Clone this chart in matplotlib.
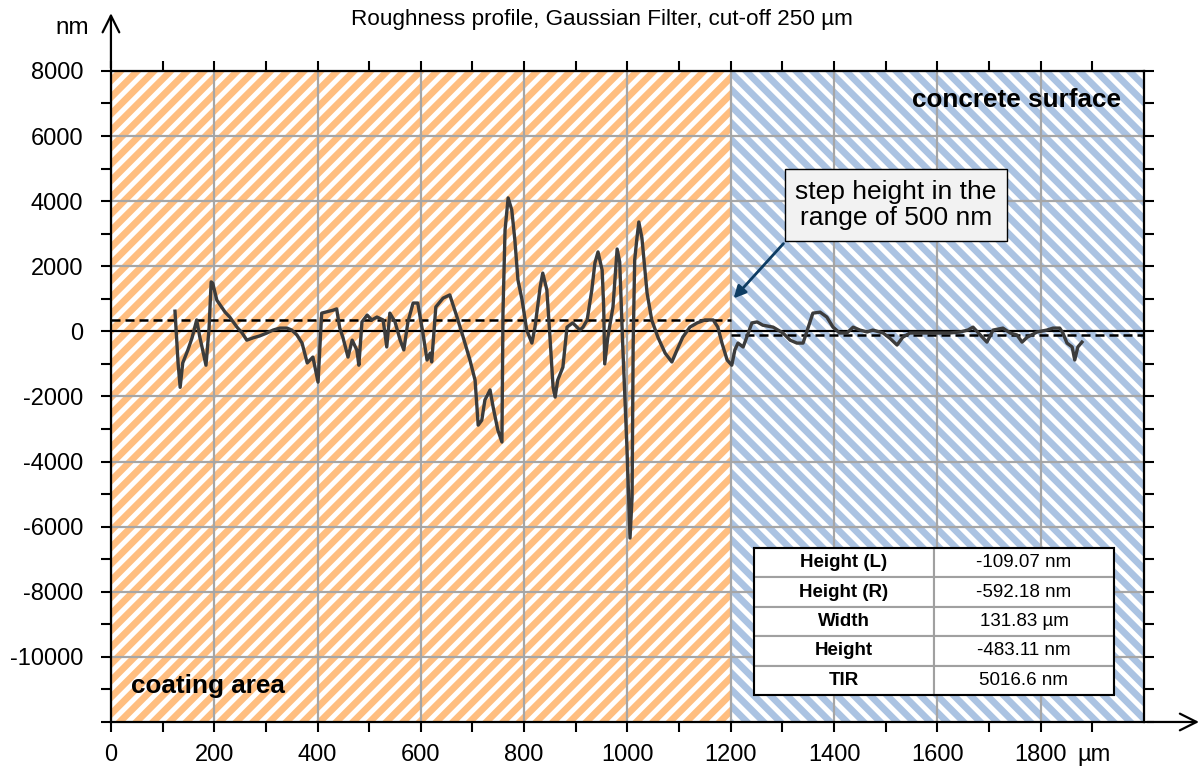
import matplotlib
matplotlib.use("Agg")
import matplotlib.pyplot as plt
import numpy as np

plt.rcParams['font.family'] = ['Liberation Sans', 'DejaVu Sans']
plt.rcParams['axes.unicode_minus'] = False
plt.rcParams['hatch.linewidth'] = 3.6

# roughness profile (x in µm, z in nm)
x_um = [124, 130, 134, 139, 149, 157, 166, 172, 184, 190, 194, 197, 205, 221, 230,
        244, 254, 263, 275, 288, 302, 314, 327, 341, 350, 360, 370, 380, 391, 401,
        408, 430, 437, 443, 449, 459, 467, 476, 480, 486, 496, 505, 515, 527, 534,
        540, 550, 560, 567, 575, 585, 594, 604, 612, 618, 621, 629, 643, 656, 670,
        682, 695, 705, 711, 718, 724, 734, 740, 749, 757, 759, 763, 769, 776, 782,
        788, 796, 805, 815, 821, 831, 836, 844, 850, 856, 860, 865, 875, 883, 894,
        908, 914, 922, 931, 937, 943, 951, 954, 956, 962, 972, 980, 985, 991, 999,
        1005, 1009, 1011, 1014, 1018, 1022, 1028, 1038, 1047, 1059, 1073, 1086, 1096,
        1107, 1121, 1135, 1150, 1166, 1175, 1183, 1193, 1202, 1208, 1214, 1224, 1231,
        1241, 1251, 1262, 1282, 1301, 1315, 1328, 1340, 1350, 1359, 1373, 1386, 1398,
        1411, 1425, 1437, 1450, 1464, 1475, 1495, 1508, 1522, 1533, 1547, 1566, 1586,
        1605, 1624, 1644, 1659, 1669, 1683, 1696, 1708, 1727, 1741, 1754, 1764, 1774,
        1793, 1812, 1824, 1837, 1843, 1851, 1861, 1866, 1872, 1880]
z_nm = [620, -980, -1720, -970, -570, -200, 350, -170, -1040, 100, 1520, 1480, 960, 590, 440,
        130, -50, -270, -200, -140, -50, 40, 100, 100, 40, -110, -360, -970, -790, -1560,
        560, 650, 690, 100, -180, -790, -270, -570, -1040, 290, 500, 350, 440, 350, -480,
        560, 290, -270, -570, 290, 870, 870, -50, -880, -670, -940, 750, 1020, 1120, 440,
        -180, -880, -1500, -2880, -2730, -2110, -1800, -2330, -3030, -3400, 560, 3110, 4100, 3730, 2810,
        1580, 960, 40, -360, 130, 1360, 1790, 1270, -180, -1710, -2020, -1500, -1100, 130, 260,
        40, 130, 350, 1270, 2100, 2440, 1880, 750, -1000, -180, 750, 2530, 2130, -480, -3560,
        -6350, -5090, -480, 2190, 2810, 3360, 2870, 1180, 350, -180, -670, -940, -570,
        -180, 130, 260, 350, 350, 130, -360, -880, -1040, -570, -360, -480, -180,
        260, 290, 190, 130, -50, -270, -360, -360, 130, 560, 590, 440, 130,
        -50, -50, 130, 40, -20, 40, -50, -210, -420, -180, -50, -50, -50,
        -50, -50, -20, 40, 130, -110, -330, 40, 100, -50, -110, -330, -180,
        -20, 40, 100, 100, -50, -360, -480, -880, -480, -330]

coating_end = 1200
x_max = 2000
level_left = 350
level_right = -110

table_rows = ["Height (L)", "Height (R)", "Width", "Height", "TIR"]
table_vals = ["-109.07 nm", "-592.18 nm", "131.83 µm", "-483.11 nm", "5016.6 nm"]

fig = plt.figure(figsize=(12.02, 7.67), dpi=100)
ax = fig.add_axes([0.0923, 0.0587, 0.8594, 0.8488])

# hatched background zones
ax.axvspan(0, coating_end, facecolor='#FFBE80', edgecolor='white', hatch='//', linewidth=0, zorder=0)
ax.axvspan(coating_end, x_max, facecolor='#ABC3E2', edgecolor='white', hatch='\\\\', linewidth=0, zorder=0)

ax.set_xlim(0, x_max)
ax.set_ylim(-12000, 8000)
ax.set_xticks(np.arange(0, 1801, 200))
ax.set_xticks(np.arange(0, 2000, 100), minor=True)
ax.set_yticks(np.arange(-10000, 8001, 2000))
ax.set_yticks(np.arange(-12000, 8001, 1000), minor=True)
ax.grid(True, which='major', color='#a6a6a6', linewidth=1.6)

ax.tick_params(which='both', direction='out', length=7, width=1.5, labelsize=17,
               top=True, right=True, labeltop=False, labelright=False)
ax.tick_params(axis='y', pad=13)
ax.tick_params(axis='x', pad=9)
for s in ax.spines.values():
    s.set_linewidth(1.6)

# zero line and mean levels
ax.axhline(0, color='black', linewidth=1.5, zorder=3)
ax.plot([0, coating_end], [level_left, level_left], color='black', linestyle=(0, (3.6, 2)), linewidth=1.8, zorder=3)
ax.plot([coating_end, x_max], [level_right, level_right], color='black', linestyle=(0, (3.6, 2)), linewidth=1.8, zorder=3)

ax.plot(x_um, z_nm, color='#3c3c3c', linewidth=2.4, zorder=4)

# axis arrows
ax.annotate('', xy=(0, 1.093), xytext=(0, 1.0), xycoords='axes fraction',
            arrowprops=dict(arrowstyle='->', color='black', lw=1.6, mutation_scale=30),
            annotation_clip=False)
ax.annotate('', xy=(1.056, 0), xytext=(1.0, 0), xycoords='axes fraction',
            arrowprops=dict(arrowstyle='->', color='black', lw=1.6, mutation_scale=30),
            annotation_clip=False)
fig.text(72 / 1202, 1 - 28 / 767, 'nm', fontsize=17.5, ha='center', va='center')
fig.text(1077 / 1202, 1 - 755 / 767, 'µm', fontsize=17, ha='left', va='center')

fig.text(602 / 1202, 1 - 20 / 767, 'Roughness profile, Gaussian Filter, cut-off 250 µm',
         fontsize=16.2, ha='center', va='center')

ax.text(1753, 7100, 'concrete surface', fontsize=18.8, fontweight='bold', ha='center', va='center', zorder=5)
ax.text(39, -10900, 'coating area', fontsize=18.8, fontweight='bold', ha='left', va='center', zorder=5)

ax.annotate('step height in the\nrange of 500 nm', xy=(1202, 950), xytext=(1520, 3880),
            fontsize=19, ha='center', va='center', zorder=6, linespacing=1.15,
            bbox=dict(boxstyle='square,pad=0.4', facecolor='#f2f2f2', edgecolor='black', linewidth=1),
            arrowprops=dict(arrowstyle='-|>', color='#0f3d63', lw=2, mutation_scale=18, relpos=(0.0, 0.0)))

tbl = ax.table(cellText=[[r, v] for r, v in zip(table_rows, table_vals)],
               cellLoc='center', bbox=[0.6225, 0.0415, 0.3485, 0.2258], zorder=6)
tbl.auto_set_font_size(False)
for (r, c), cell in tbl.get_celld().items():
    cell.set_facecolor('white')
    cell.set_edgecolor('#a0a0a0')
    cell.set_linewidth(1.5)
    cell.get_text().set_fontsize(13.5)
    if c == 0:
        cell.get_text().set_fontweight('bold')
frame = plt.Rectangle((0.6225, 0.0415), 0.3485, 0.2258, transform=ax.transAxes,
                      fill=False, edgecolor='black', linewidth=1.5, zorder=7)
ax.add_patch(frame)

fig.savefig('out.png', dpi=100)
